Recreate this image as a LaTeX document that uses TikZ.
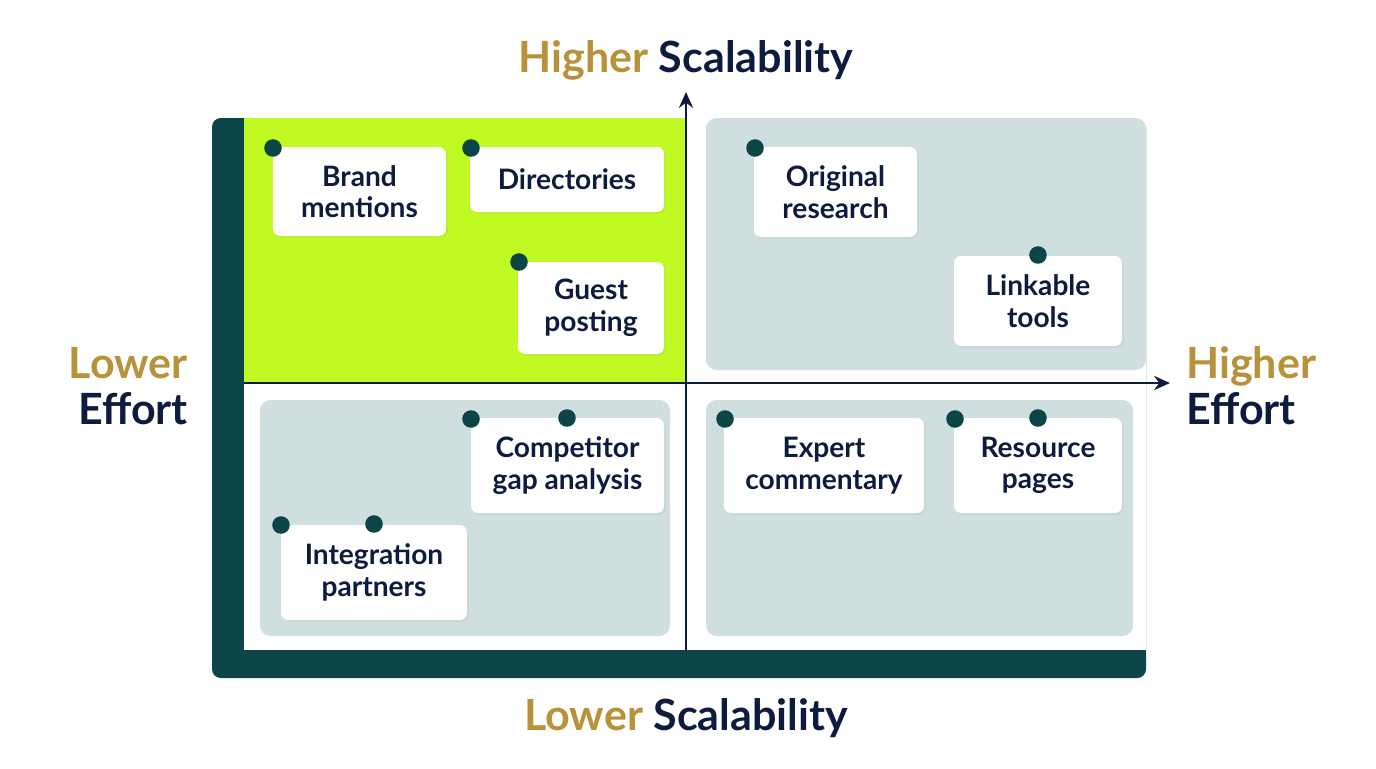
\documentclass[tikz,border=0pt]{standalone}
\usepackage{fontspec}
\setmainfont{Lato}
\usetikzlibrary{arrows.meta,shadows}
\definecolor{frame}{HTML}{0B4548}
\definecolor{lime}{HTML}{C0FA22}
\definecolor{panel}{HTML}{CFDFE0}
\definecolor{ink}{HTML}{0D1B3E}
\definecolor{gold}{HTML}{B8923A}
\tikzset{
  card/.style={fill=white, rounded corners=4pt, align=center, font=\fontsize{16}{18}\selectfont\bfseries, text=ink, drop shadow={opacity=0.1, shadow xshift=1pt, shadow yshift=-1pt}},
  dot/.style={circle, fill=frame, inner sep=0pt, minimum size=10pt},
  axis/.style={ink, line width=1.6pt, -{Stealth[length=9pt,width=8pt]}},
  title/.style={font=\fontsize{24.5}{26}\selectfont\bfseries, text=ink, align=center}
}
\begin{document}
\begin{tikzpicture}[x=0.02cm, y=-0.02cm]
    \useasboundingbox (0,0) rectangle (1376,768);
    % quadrants
    \fill[frame, rounded corners=5pt] (212,118) rectangle (1146,678);
    \fill[white] (244,118) rectangle (1146,650);
    \fill[lime] (244,118) rectangle (686,383);
    \fill[panel, rounded corners=6pt] (706,118) rectangle (1146,370);
    \fill[panel, rounded corners=6pt] (260,400) rectangle (670,636);
    \fill[panel, rounded corners=6pt] (706,400) rectangle (1133,636);
    % axes
    \coordinate (vbot) at (686,650); \coordinate (vtop) at (686,92);
    \coordinate (hleft) at (244,383); \coordinate (hright) at (1170,383);
    \draw[axis] (vbot) -- (vtop);
    \draw[axis] (hleft) -- (hright);
    % titles
    \node[title] (hs) at (686,60) {\textcolor{gold}{Higher} Scalability};
    \node[title] (ls) at (686,718) {\textcolor{gold}{Lower} Scalability};
    \node[title, align=right, anchor=east] (le) at (194,386) {\textcolor{gold}{Lower}\\Effort};
    \node[title, align=left, anchor=west] (he) at (1180,386) {\textcolor{gold}{Higher}\\Effort};
    % cards
    \node[card, minimum width=173*0.02cm, minimum height=89*0.02cm] (brand) at (359.5,191.5) {Brand\\mentions};
    \node[card, minimum width=194*0.02cm, minimum height=65*0.02cm] (dir) at (567,179.5) {Directories};
    \node[card, minimum width=146*0.02cm, minimum height=92*0.02cm] (guest) at (591,308) {Guest\\posting};
    \node[card, minimum width=163*0.02cm, minimum height=90*0.02cm] (orig) at (835.5,192) {Original\\research};
    \node[card, minimum width=168*0.02cm, minimum height=90*0.02cm] (link) at (1038,301) {Linkable\\tools};
    \node[card, minimum width=193*0.02cm, minimum height=95*0.02cm] (comp) at (567.5,465.5) {Competitor\\gap analysis};
    \node[card, minimum width=186*0.02cm, minimum height=95*0.02cm] (integ) at (374,572.5) {Integration\\partners};
    \node[card, minimum width=200*0.02cm, minimum height=95*0.02cm] (expert) at (824,465.5) {Expert\\commentary};
    \node[card, minimum width=168*0.02cm, minimum height=95*0.02cm] (res) at (1038,465.5) {Resource\\pages};
    % dots
    \foreach \i/\p in {1/{273,148}, 2/{471,148}, 3/{519,262}, 4/{755,148}, 5/{1038,255}, 6/{471,419}, 7/{567,418}, 8/{281,525}, 9/{374,524}, 10/{725,419}, 11/{955,419}, 12/{1038,418}}
      \node[dot] (d\i) at (\p) {};
\end{tikzpicture}
\end{document}
